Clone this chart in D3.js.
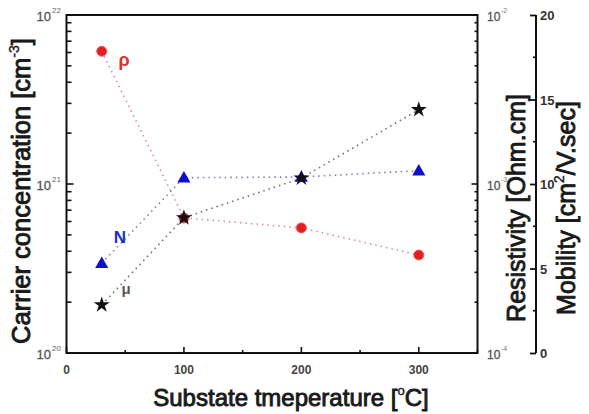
<!DOCTYPE html>
<html><head><meta charset="utf-8">
<script src="https://cdn.jsdelivr.net/npm/d3@7"></script>
<style>
body{margin:0;background:#fff;}
svg{display:block;font-family:"Liberation Sans",Arial,sans-serif;}
</style></head>
<body><svg id="c" width="589" height="414"></svg>
<script>
const temps = [30, 100, 200, 300];
const carrierN = [3.4e20, 1.09e21, 1.1e21, 1.2e21];
const resistivity = [6.1e-3, 6.3e-4, 5.5e-4, 3.8e-4];
const mobility = [2.85, 8.0, 10.35, 14.4];
const xTicks = [0, 100, 200, 300];
const leftTicks = [1e20, 1e21, 1e22];
const rightTicks = [1e-4, 1e-3, 1e-2];
const mobTicks = [0, 5, 10, 15, 20];

const svg = d3.select("#c");
const L = 66.5, R = 477.5, T = 15, B = 353, MOBX = 536;
const x = d3.scaleLinear().domain([0, 350]).range([L, R]);
const yN = d3.scaleLog().domain([1e20, 1e22]).range([B, T]);
const yR = d3.scaleLog().domain([1e-4, 1e-2]).range([B, T]);
const yM = d3.scaleLinear().domain([0, 20]).range([B, T]);

// frame
svg.append("rect").attr("x", L).attr("y", T).attr("width", R - L).attr("height", B - T)
  .attr("fill", "none").attr("stroke", "#111").attr("stroke-width", 2);

// left axis ticks (inside)
const g = svg.append("g").attr("stroke", "#111").attr("stroke-width", 1.6);
const logMinor = [];
for (let e = 20; e < 22; e++) for (let k = 1; k <= 9; k++) logMinor.push(k * Math.pow(10, e));
logMinor.push(1e22);
logMinor.forEach(v => {
  const major = leftTicks.includes(v);
  g.append("line").attr("x1", L).attr("x2", L + (major ? 7 : 5)).attr("y1", yN(v)).attr("y2", yN(v));
});
// right (resistivity) ticks inside
const rMinor = [];
for (let e = -4; e < -2; e++) for (let k = 1; k <= 9; k++) rMinor.push(k * Math.pow(10, e));
rMinor.push(1e-2);
rMinor.forEach(v => {
  const major = rightTicks.some(t => Math.abs(t - v) / t < 1e-6);
  g.append("line").attr("x1", R).attr("x2", R - (major ? 6 : 3)).attr("y1", yR(v)).attr("y2", yR(v));
});
// bottom ticks
d3.range(0, 351, 50).forEach(v => {
  const major = v % 100 === 0;
  g.append("line").attr("x1", x(v)).attr("x2", x(v)).attr("y1", B).attr("y2", B - (major ? 6 : 3));
});

// left tick labels
leftTicks.forEach(v => {
  const e = Math.round(Math.log10(v));
  svg.append("text").attr("x", 51).attr("y", yN(v) + 6).attr("text-anchor", "end")
    .attr("font-size", 13).attr("fill", "#555").attr("stroke", "#555").attr("stroke-width", 0.3).text("10");
  svg.append("text").attr("x", 52).attr("y", yN(v) - 2).attr("font-size", 8).attr("fill", "#666").text(e);
});
// right tick labels
rightTicks.forEach(v => {
  const e = Math.round(Math.log10(v));
  svg.append("text").attr("x", 487).attr("y", yR(v) + 6).attr("font-size", 12).attr("fill", "#555")
    .attr("stroke", "#555").attr("stroke-width", 0.3).text("10");
  svg.append("text").attr("x", 501).attr("y", yR(v) - 2).attr("font-size", 7).attr("fill", "#777").text(e);
});
// bottom tick labels
xTicks.forEach(v => {
  svg.append("text").attr("x", x(v)).attr("y", 374).attr("text-anchor", "middle")
    .attr("font-size", 12).attr("font-weight", "bold").attr("fill", "#444").text(v);
});

// mobility axis
const mAxis = d3.axisLeft(yM).tickValues(mobTicks).tickSize(6).tickFormat("");
const ma = svg.append("g").attr("transform", `translate(${MOBX},0)`).call(mAxis);
ma.select(".domain").attr("stroke", "#111").attr("stroke-width", 2).attr("d", `M0,${T}V${B}`);
ma.selectAll(".tick line").attr("stroke", "#111").attr("stroke-width", 1.8);
d3.range(2.5, 20, 5).forEach(v => {
  svg.append("line").attr("x1", MOBX).attr("x2", MOBX - 3).attr("y1", yM(v)).attr("y2", yM(v))
    .attr("stroke", "#111").attr("stroke-width", 1.6);
});
mobTicks.forEach(v => {
  svg.append("text").attr("x", MOBX + 4).attr("y", yM(v) + 5).attr("font-size", 13)
    .attr("font-weight", "bold").attr("fill", "#333").text(v);
});

// axis titles
function title(xc, yc, rot, parts, size) {
  const t = svg.append("text").attr("transform", `translate(${xc},${yc}) rotate(${rot})`)
    .attr("text-anchor", "middle").attr("font-size", size).attr("fill", "#1a1a1a")
    .attr("stroke", "#1a1a1a").attr("stroke-width", 0.9);
  parts.forEach(p => {
    const ts = t.append("tspan").text(p.t);
    if (p.sup) ts.attr("font-size", size * 0.55).attr("dy", -size * 0.45).attr("stroke-width", 0.4);
    if (p.down) ts.attr("dy", size * 0.45);
  });
}
title(30, 191, -90, [{t: "Carrier concentration [cm"}, {t: "-3", sup: true}, {t: "]", down: true}], 25.5);
title(525, 208, -90, [{t: "Resistivity [Ohm.cm]"}], 25);
title(575, 208, -90, [{t: "Mobility [cm"}, {t: "2", sup: true}, {t: "/V.sec]", down: true}], 25);
title(291, 406, 0, [{t: "Substate tmeperature ["}, {t: "o", sup: true}, {t: "C]", down: true}], 24);

// series
function series(vals, yS, color) {
  const line = d3.line().x((d, i) => x(temps[i])).y(d => yS(d));
  svg.append("path").datum(vals).attr("d", line).attr("fill", "none")
    .attr("stroke", color).attr("stroke-width", 1.6).attr("stroke-dasharray", "1.5 4")
    .attr("opacity", 0.6);
}
series(resistivity, yR, "#d04050");
series(carrierN, yN, "#1a2a90");
series(mobility, yM, "#111");

// markers
svg.selectAll(".rc").data(resistivity).enter().append("circle")
  .attr("cx", (d, i) => x(temps[i])).attr("cy", d => yR(d)).attr("r", 5)
  .attr("fill", "#e02020").attr("stroke", "#f06060").attr("stroke-width", 1);
const tri = d3.symbol().type(d3.symbolTriangle).size(75);
svg.selectAll(".tri").data(carrierN).enter().append("path")
  .attr("d", tri).attr("transform", (d, i) => `translate(${x(temps[i])},${yN(d) + 1})`)
  .attr("fill", "#1010c8");
const star = d3.symbol().type(d3.symbolStar).size(80);
svg.selectAll(".star").data(mobility).enter().append("path")
  .attr("d", star).attr("transform", (d, i) => `translate(${x(temps[i])},${yM(d)})`)
  .attr("fill", "#111");

// series labels
svg.append("text").attr("x", 124).attr("y", 66).attr("text-anchor", "middle").attr("font-size", 18)
  .attr("font-weight", "bold").attr("fill", "#e03030").text("ρ");
svg.append("text").attr("x", 120).attr("y", 243).attr("text-anchor", "middle").attr("font-size", 17)
  .attr("font-weight", "bold").attr("fill", "#2030c0").text("N");
svg.append("text").attr("x", 126).attr("y", 294).attr("text-anchor", "middle").attr("font-size", 15)
  .attr("font-weight", "bold").attr("fill", "#555").text("μ");
</script></body></html>
